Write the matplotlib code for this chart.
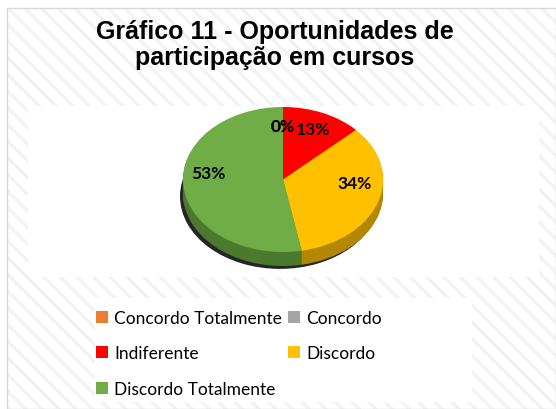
import matplotlib
matplotlib.use("Agg")
import matplotlib.pyplot as plt
from matplotlib.patches import Rectangle, Patch

categories = ["Concordo Totalmente", "Concordo", "Indiferente", "Discordo", "Discordo Totalmente"]
values = [0, 0, 13, 34, 53]
colors = ["#ED7D31", "#A5A5A5", "#FF0000", "#FFC000", "#70AD47"]
side_colors = ["#a8561f", "#6e6e6e", "#a00000", "#b38700", "#4b7a2e"]
title = "Gráfico 11 - Oportunidades de\nparticipação em cursos"

W, H = 556, 410
plt.rcParams["hatch.linewidth"] = 2.5

fig = plt.figure(figsize=(W / 100, H / 100), dpi=100)


def fx(px):
    return px / W


def fy(py):
    return 1 - py / H


# background with diagonal stripes + border
fig.add_artist(Rectangle((fx(7), 0), fx(556 - 7), fy(9), transform=fig.transFigure,
                         facecolor="white", edgecolor="#f3f3f3", hatch="\\\\", lw=0, zorder=-10))
fig.add_artist(Rectangle((fx(7), 0), fx(556 - 7), fy(9), transform=fig.transFigure,
                         facecolor="none", edgecolor="#d9d9d9", lw=1, zorder=-9))
# plot area and legend box
fig.add_artist(Rectangle((fx(28), fy(278)), fx(539 - 28), (278 - 107) / H,
                         transform=fig.transFigure, facecolor="white", lw=0, zorder=-8))
fig.add_artist(Rectangle((fx(95), fy(403)), fx(472 - 95), (403 - 299) / H,
                         transform=fig.transFigure, facecolor="white", lw=0, zorder=-8))

fig.text(fx(275), fy(45), title, ha="center", va="center", fontsize=18,
         fontweight="bold", family="Liberation Sans", linespacing=1.1)

# pie axes over the plot area
ax = fig.add_axes([fx(28), fy(278), fx(539 - 28), (278 - 107) / H])
cx, cy, rx, ry = 283, 180.5, 100, 72.5
depth = 14 / ry

# shadow
ax.pie([1], colors=["black"], center=(-0.03, -depth - 0.04), radius=1.0,
       wedgeprops=dict(alpha=0.85, lw=0))
# side walls
n = 16
for k in range(n, 0, -1):
    ax.pie(values, colors=side_colors, startangle=90, counterclock=False,
           center=(0, -depth * k / n), wedgeprops=dict(lw=0))
# top face
wedges, texts, autotexts = ax.pie(values, colors=colors, startangle=90, counterclock=False,
                                  autopct="%1.0f%%", pctdistance=0.75,
                                  wedgeprops=dict(lw=0),
                                  textprops=dict(fontsize=12.5, fontweight="bold",
                                                 family="Lato", color="black"))
for t in texts:
    t.set_text("")
# pull lower labels up a bit, like the tilted 3D view of the original
for t in autotexts:
    x, y = t.get_position()
    t.set_position((x, 0.72 - (0.72 - y) * 0.8))

ax.set_aspect("auto")
ax.set_xlim((28 - cx) / rx, (539 - cx) / rx)
ax.set_ylim(-(278 - cy) / ry, (cy - 107) / ry)
ax.axis("off")

# legend, row-wise order as in the reference
order = [0, 2, 4, 1, 3]
handles = [Patch(facecolor=colors[i], edgecolor="none") for i in order]
labels = [categories[i] for i in order]
fig.legend(handles, labels, ncol=2, loc="upper left",
           bbox_to_anchor=(fx(96), fy(311)), frameon=False,
           prop=dict(family="Lato", size=12.5), handlelength=0.7, handleheight=0.7,
           handletextpad=0.35, labelspacing=1.12, columnspacing=0.35,
           borderpad=0, borderaxespad=0)

fig.savefig("out.png", dpi=100)
